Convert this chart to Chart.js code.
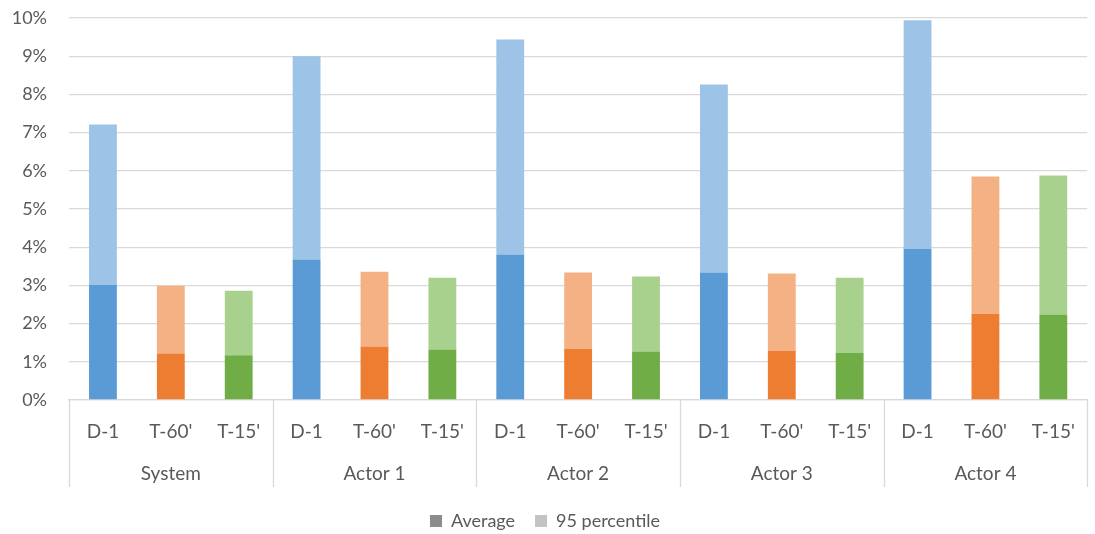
<!DOCTYPE html>
<html>
<head>
<meta charset="utf-8">
<script src="https://cdn.jsdelivr.net/npm/chart.js@4.4.1/dist/chart.umd.min.js"></script>
<style>
  html, body { margin: 0; padding: 0; background: #fff; }
  #wrap { width: 1095px; height: 534px; position: relative; }
</style>
</head>
<body>
<div id="wrap"><canvas id="myChart"></canvas></div>
<script>
const groups = ['System', 'Actor 1', 'Actor 2', 'Actor 3', 'Actor 4'];
const horizons = ['D-1', "T-60'", "T-15'"];
const categories = groups.flatMap(g => horizons);

// values in %
const average = [3.02, 1.22, 1.17, 3.68, 1.40, 1.32, 3.81, 1.34, 1.27, 3.34, 1.29, 1.24, 3.96, 2.26, 2.24];
const percentile95 = [7.21, 2.99, 2.86, 9.00, 3.36, 3.20, 9.44, 3.34, 3.23, 8.26, 3.31, 3.20, 9.94, 5.85, 5.88];

const yTicks = [0, 1, 2, 3, 4, 5, 6, 7, 8, 9, 10];

const darkColors = ['#5B9BD5', '#ED7D31', '#70AD47'];
const lightColors = ['#9DC3E6', '#F4B183', '#A9D18E'];

const FONT = 'Lato, "Open Sans", sans-serif';
const TEXT = '#595959';
const GRID = '#d9d9d9';

const ctx = document.getElementById('myChart').getContext('2d');

// vertical separators between the groups, under the axis
const groupLines = {
    id: 'groupLines',
    afterDraw(chart) {
        const x2 = chart.scales.x2;
        const c = chart.ctx;
        const top = chart.chartArea.bottom;
        const bottom = chart.chartArea.bottom + 87;
        const step = x2.getPixelForValue(1) - x2.getPixelForValue(0);
        c.save();
        c.strokeStyle = GRID;
        c.lineWidth = 1.3;
        for (let i = 0; i <= groups.length; i++) {
            let px = x2.getPixelForValue(i) - step / 2;
            px = Math.round(px) + 0.5;
            c.beginPath();
            c.moveTo(px, top);
            c.lineTo(px, bottom);
            c.stroke();
        }
        c.restore();
    }
};

// keep the legend short but with wide gaps between its items
const legendBox = {
    id: 'legendBox',
    afterInit(chart) {
        const lg = chart.legend;
        const fit = lg.fit;
        lg.fit = function () {
            fit.call(this);
            this.height = 32;
        };
    },
    afterLayout(chart) {
        chart.legend.top -= 10;
        chart.legend.bottom = chart.height;
    }
};

const chartData = {
    type: 'bar',
    data: {
        labels: categories,
        datasets: [
            {
                label: 'Average',
                data: average,
                backgroundColor: categories.map((_, i) => darkColors[i % 3]),
                legendColor: '#8c8c8c',
                order: 0,
                categoryPercentage: 0.41,
                barPercentage: 1,
            },
            {
                label: '95 percentile',
                data: categories.map((_, i) => [average[i], percentile95[i]]),
                backgroundColor: categories.map((_, i) => lightColors[i % 3]),
                legendColor: '#c3c3c3',
                order: 1,
                categoryPercentage: 0.41,
                barPercentage: 1,
            },
        ],
    },
    options: {
        responsive: true,
        maintainAspectRatio: false,
        animation: false,
        layout: { padding: { top: 18, right: 5, left: 0, bottom: 0 } },
        plugins: {
            legend: {
                position: 'bottom',
                labels: {
                    font: { family: FONT, size: 18 },
                    color: TEXT,
                    boxWidth: 12,
                    boxHeight: 12,
                    padding: 20,
                    generateLabels(chart) {
                        return chart.data.datasets.map((ds, i) => ({
                            text: ds.label,
                            fillStyle: ds.legendColor,
                            strokeStyle: ds.legendColor,
                            lineWidth: 0,
                            datasetIndex: i,
                            fontColor: TEXT,
                        }));
                    }
                }
            },
            tooltip: { enabled: false },
        },
        scales: {
            x: {
                stacked: true,
                grid: { display: false, drawTicks: false },
                border: { display: true, color: GRID, width: 1.3 },
                ticks: { font: { family: FONT, size: 19 }, color: TEXT, padding: 20, maxRotation: 0, autoSkip: false },
                afterFit(scale) { scale.height = 55; },
            },
            x2: {
                type: 'category',
                labels: groups,
                offset: true,
                grid: { display: false, drawTicks: false },
                border: { display: false },
                ticks: { font: { family: FONT, size: 19 }, color: TEXT, padding: 7 },
                afterFit(scale) { scale.height = 47; },
            },
            y: {
                stacked: false,
                min: 0,
                max: 10,
                afterBuildTicks(scale) { scale.ticks = yTicks.map(v => ({ value: v })); },
                grid: { color: GRID, lineWidth: 1.3, drawTicks: false },
                border: { display: false },
                ticks: {
                    font: { family: FONT, size: 18 },
                    color: TEXT,
                    padding: 22,
                    callback: v => v + '%',
                },
                afterFit(scale) {
                    scale.width = 69;
                    scale.paddingTop = 0;
                    scale.paddingBottom = 0;
                },
            }
        }
    },
    plugins: [groupLines, legendBox],
};

const myChart = new Chart(ctx, chartData);
</script>
</body>
</html>
